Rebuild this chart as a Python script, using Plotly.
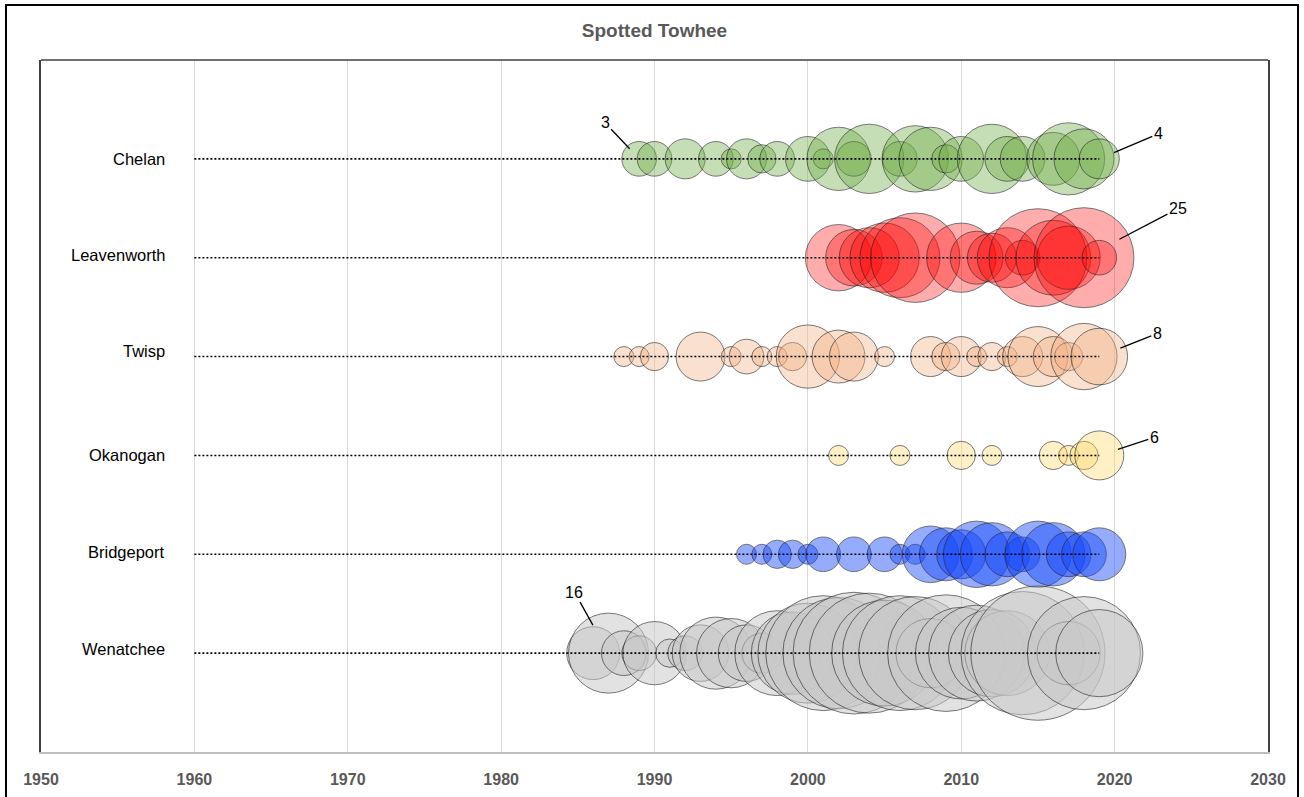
import math
import plotly.graph_objects as go

# ---------------- data ----------------
categories = ["Chelan", "Leavenworth", "Twisp", "Okanogan", "Bridgeport", "Wenatchee"]
row_pos = [6, 5, 4, 3, 2, 1]

chelan_years = [1989, 1990, 1992, 1994, 1995, 1996, 1997, 1998, 2000, 2001, 2002, 2003, 2004,
                2006, 2007, 2008, 2009, 2010, 2012, 2013, 2014, 2016, 2017, 2018, 2019]
chelan_vals = [3, 3, 4, 3, 1, 4, 2, 3, 5, 1, 10, 3, 12,
               3, 11, 10, 2, 5, 12, 5, 5, 7, 13, 9, 4]

leav_years = [2002, 2003, 2004, 2005, 2006, 2007, 2010, 2011, 2012, 2013, 2014, 2015, 2016,
              2017, 2018, 2019]
leav_vals = [11, 8, 9, 12, 16, 20, 12, 7, 6, 9, 3, 24, 14, 10, 25, 3]

twisp_years = [1988, 1989, 1990, 1993, 1995, 1996, 1997, 1998, 1999, 2000, 2002, 2003, 2005,
               2008, 2009, 2010, 2011, 2012, 2013, 2014, 2015, 2016, 2017, 2018, 2019]
twisp_vals = [1, 1, 2, 6, 1, 3, 1, 1, 2, 10, 7, 6, 1,
              4, 2, 4, 1, 2, 1, 4, 9, 4, 2, 11, 8]

okan_years = [2002, 2006, 2010, 2012, 2016, 2017, 2018, 2019]
okan_vals = [1, 1, 2, 1, 2, 1, 2, 6]

bridge_years = [1996, 1997, 1998, 1999, 2000, 2001, 2003, 2005, 2006, 2007, 2008, 2009, 2010,
                2011, 2012, 2013, 2014, 2015, 2016, 2017, 2018, 2019]
bridge_vals = [1, 1, 2, 2, 1, 3, 3, 3, 1, 1, 8, 7, 6,
               11, 10, 5, 3, 11, 10, 5, 5, 7]

wen_years = [1986, 1987, 1988, 1989, 1990, 1991, 1992, 1993, 1994, 1995, 1996, 1997, 1998,
             1999, 2000, 2001, 2002, 2003, 2004, 2005, 2006, 2007, 2008, 2009, 2010, 2011,
             2012, 2013, 2014, 2015, 2017, 2018, 2019]
wen_vals = [7, 16, 5, 3, 10, 2, 3, 8, 13, 12, 8, 4, 18,
            17, 25, 33, 31, 37, 36, 28, 33, 32, 12, 34, 21, 23,
            19, 18, 38, 45, 10, 32, 19]

line_start = [1960, 1960, 1960, 1960, 1960, 1960]
line_end = [2019, 2019, 2019, 2019, 2019, 2019]

x_ticks = [1950, 1960, 1970, 1980, 1990, 2000, 2010, 2020, 2030]

callout_series = ["Chelan", "Chelan", "Leavenworth", "Twisp", "Okanogan", "Wenatchee"]
callout_years = [1989, 2019, 2018, 2019, 2019, 1987]

# ---------------- style ----------------
fills = {
    "Chelan": "rgba(112,173,71,0.56)",
    "Leavenworth": "rgba(255,0,0,0.46)",
    "Twisp": "rgba(244,177,131,0.55)",
    "Okanogan": "rgba(255,217,102,0.52)",
    "Bridgeport": "rgba(20,70,250,0.64)",
    "Wenatchee": "rgba(200,200,200,0.75)",
}
callout_offsets = [(-34, -36), (59, -25), (94, -49), (58, -23), (55, -18), (-34, -61)]
label_shift = [0, 3, 6, 0, 2, 4]

series = {
    "Chelan": (chelan_years, chelan_vals),
    "Leavenworth": (leav_years, leav_vals),
    "Twisp": (twisp_years, twisp_vals),
    "Okanogan": (okan_years, okan_vals),
    "Bridgeport": (bridge_years, bridge_vals),
    "Wenatchee": (wen_years, wen_vals),
}

SIZEREF = 0.005  # diameter = sqrt(2*v/sizeref) = 20*sqrt(v) px

fig = go.Figure()

for cat, pos in zip(categories, row_pos):
    yrs, vals = series[cat]
    fig.add_trace(go.Scatter(
        x=yrs, y=[pos] * len(yrs), mode="markers", name=cat,
        marker=dict(size=vals, sizemode="area", sizeref=SIZEREF,
                    color=fills[cat], line=dict(color="rgba(30,30,30,0.85)", width=1)),
        showlegend=False, hoverinfo="x+text", text=[str(v) for v in vals],
    ))

for i, (cat, pos) in enumerate(zip(categories, row_pos)):
    fig.add_trace(go.Scatter(
        x=[line_start[i], line_end[i]], y=[pos, pos], mode="lines",
        line=dict(color="black", width=1.6, dash="2px,2px"),
        showlegend=False, hoverinfo="skip",
    ))

annotations = []
for i, (cat, pos) in enumerate(zip(categories, row_pos)):
    annotations.append(dict(
        x=1958.2, y=pos, xref="x", yref="y", text=cat, showarrow=False,
        xanchor="right", yanchor="middle", yshift=label_shift[i],
        font=dict(family="Liberation Sans, Arial", size=16.5, color="black"),
    ))

for (cat, yr), (ax, ay) in zip(zip(callout_series, callout_years), callout_offsets):
    yrs, vals = series[cat]
    v = vals[yrs.index(yr)]
    radius = 10 * math.sqrt(v)
    annotations.append(dict(
        x=yr, y=row_pos[categories.index(cat)], xref="x", yref="y",
        text=str(v), showarrow=True, arrowhead=0, arrowwidth=1.3, arrowcolor="black",
        ax=ax, ay=ay, standoff=0.8 * radius,
        font=dict(family="Liberation Sans, Arial", size=16, color="black"),
    ))

L, R, T, B = 41, 36, 60, 45
W, H = 1304, 797
pw, ph = W - L - R, H - T - B

shapes = [
    # top border of plot area
    dict(type="line", xref="paper", yref="paper", x0=0, x1=1, y0=1, y1=1,
         line=dict(color="#404040", width=1.5)),
    # outer chart border
    dict(type="rect", xref="paper", yref="paper",
         x0=(6 - L) / pw, x1=(1298 - L) / pw, y0=-0.2, y1=(H - B - 5) / ph,
         line=dict(color="black", width=2), fillcolor="rgba(0,0,0,0)"),
]

fig.update_layout(
    width=W, height=H,
    margin=dict(l=L, r=R, t=T, b=B, autoexpand=False),
    paper_bgcolor="white", plot_bgcolor="white",
    title=dict(text="<b>Spotted Towhee</b>", x=0.5, xref="paper", xanchor="center",
               y=1 - 30 / H, yanchor="middle",
               font=dict(family="Liberation Sans, Arial", size=19, color="#595959")),
    xaxis=dict(range=[1950, 2030], tickvals=x_ticks, ticktext=[str(t) for t in x_ticks],
               showgrid=True, gridcolor="#D9D9D9", gridwidth=1, zeroline=False,
               showline=True, linecolor="#BFBFBF", linewidth=1.5, ticks="",
               ticklabelstandoff=12, automargin=False,
               tickfont=dict(family="Liberation Sans, Arial", size=16, color="#595959",
                             weight="bold")),
    yaxis=dict(range=[0, 7], showticklabels=False, showgrid=False, zeroline=False,
               showline=True, mirror=True, linecolor="#404040", linewidth=1.5, ticks="",
               automargin=False),
    annotations=annotations,
    shapes=shapes,
    showlegend=False,
)

fig.write_html("out.html", config={"displayModeBar": False},
               post_script="document.body.style.margin='0px';")
